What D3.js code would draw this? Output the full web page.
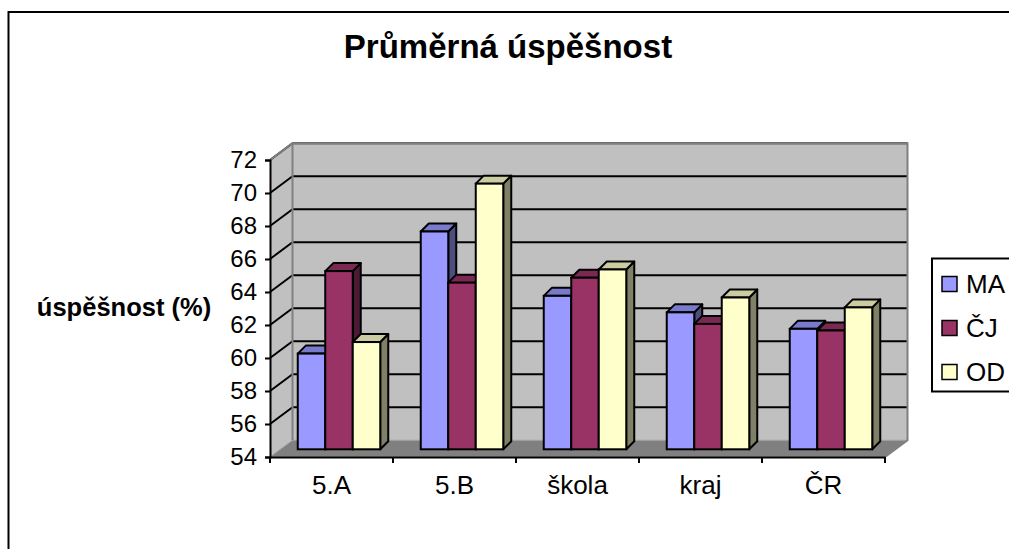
<!DOCTYPE html>
<html>
<head>
<meta charset="utf-8">
<script src="https://cdn.jsdelivr.net/npm/d3@7"></script>
<style>
  body { margin: 0; background: #fff; }
  svg { display: block; font-family: Arial, "Liberation Sans", sans-serif; }
</style>
</head>
<body>
<div id="chart"></div>
<script>
// values
const categories = ["5.A", "5.B", "škola", "kraj", "ČR"];
const seriesNames = ["MA", "ČJ", "OD"];
const maValues = [59.8, 67.2, 63.3, 62.3, 61.3];
const cjValues = [64.8, 64.1, 64.4, 61.6, 61.2];
const odValues = [60.5, 70.1, 64.9, 63.2, 62.6];
const yTicks = [54, 56, 58, 60, 62, 64, 66, 68, 70, 72];

const seriesValues = [maValues, cjValues, odValues];
const colors = [
    {front: "#9999ff", top: "#7a7acc", side: "#4d4d80"},
    {front: "#993366", top: "#7a2952", side: "#4d1a33"},
    {front: "#ffffcc", top: "#cccca3", side: "#808066"}
];

let width = 1009, height = 549;
let plot = {left: 270, right: 885, top: 160, bottom: 457};
let wallDx = 22.5, wallDy = -16.7;   // depth of the 3d box
let barShiftX = 7.5, barShiftY = -7.7; // bars front face sits a bit back
let barDx = 8, barDy = -8;            // depth of a bar

let svg = d3.select("#chart")
    .append("svg")
    .attr("width", width)
    .attr("height", height);

// outer chart border
svg.append("rect")
    .attr("x", 8.5).attr("y", 12)
    .attr("width", 1020).attr("height", 560)
    .attr("fill", "none")
    .attr("stroke", "#000")
    .attr("stroke-width", 2);

let x = d3.scaleBand()
    .domain(categories)
    .range([plot.left, plot.right]);
let y = d3.scaleLinear()
    .domain([54, 72])
    .range([plot.bottom, plot.top]);

let barW = 27.5;
let xs = d3.scaleBand()
    .domain(seriesNames)
    .range([0, barW * seriesNames.length]);

let poly = pts => pts.map(p => p.join(",")).join(" ");

// walls
let y0 = y(54), y1 = y(72);
svg.append("polygon") // side wall
    .attr("points", poly([[plot.left, y1], [plot.left + wallDx, y1 + wallDy],
        [plot.left + wallDx, y0 + wallDy], [plot.left, y0]]))
    .attr("fill", "#c0c0c0");
svg.append("polygon") // back wall
    .attr("points", poly([[plot.left + wallDx, y1 + wallDy], [plot.right + wallDx, y1 + wallDy],
        [plot.right + wallDx, y0 + wallDy], [plot.left + wallDx, y0 + wallDy]]))
    .attr("fill", "#c0c0c0");
svg.append("polygon") // floor
    .attr("points", poly([[plot.left, y0], [plot.left + wallDx, y0 + wallDy],
        [plot.right + wallDx, y0 + wallDy], [plot.right, y0]]))
    .attr("fill", "#808080")
    .attr("stroke", "#a0a0a0")
    .attr("stroke-width", 1);

// gridlines
let grid = yTicks.filter(t => t > 54);
svg.selectAll(".gridBack")
    .data(grid)
    .enter()
    .append("line")
    .attr("x1", plot.left + wallDx)
    .attr("x2", plot.right + wallDx)
    .attr("y1", d => y(d) + wallDy)
    .attr("y2", d => y(d) + wallDy)
    .attr("stroke", "#000")
    .attr("stroke-width", 2);
svg.selectAll(".gridSide")
    .data(grid)
    .enter()
    .append("line")
    .attr("x1", plot.left)
    .attr("x2", plot.left + wallDx)
    .attr("y1", d => y(d))
    .attr("y2", d => y(d) + wallDy)
    .attr("stroke", "#000")
    .attr("stroke-width", 2);

// wall edges
svg.append("polyline")
    .attr("points", poly([[plot.left, y1], [plot.left + wallDx, y1 + wallDy],
        [plot.right + wallDx, y1 + wallDy], [plot.right + wallDx, y0 + wallDy], [plot.right, y0]]))
    .attr("fill", "none")
    .attr("stroke", "#808080")
    .attr("stroke-width", 2);
svg.append("line")
    .attr("x1", plot.left + wallDx).attr("x2", plot.left + wallDx)
    .attr("y1", y1 + wallDy).attr("y2", y0 + wallDy)
    .attr("stroke", "#808080")
    .attr("stroke-width", 2);

// bars
let barData = [];
categories.forEach((c, i) => {
    seriesNames.forEach((s, j) => {
        barData.push({cat: c, series: s, idx: j, value: seriesValues[j][i]});
    });
});

let groupOffset = (x.bandwidth() - xs.range()[1]) / 2;

let bars = svg.selectAll(".bar")
    .data(barData)
    .enter()
    .append("g")
    .attr("class", "bar");

let bx = d => x(d.cat) + groupOffset + xs(d.series) + barShiftX;
let byTop = d => y(d.value) + barShiftY;
let byBot = d => y(54) + barShiftY;

bars.append("polygon") // side
    .attr("points", d => poly([[bx(d) + barW, byTop(d)], [bx(d) + barW + barDx, byTop(d) + barDy],
        [bx(d) + barW + barDx, byBot(d) + barDy], [bx(d) + barW, byBot(d)]]))
    .attr("fill", d => colors[d.idx].side)
    .attr("stroke", "#000")
    .attr("stroke-width", 2)
    .attr("stroke-linejoin", "round");
bars.append("polygon") // top
    .attr("points", d => poly([[bx(d), byTop(d)], [bx(d) + barDx, byTop(d) + barDy],
        [bx(d) + barW + barDx, byTop(d) + barDy], [bx(d) + barW, byTop(d)]]))
    .attr("fill", d => colors[d.idx].top)
    .attr("stroke", "#000")
    .attr("stroke-width", 2)
    .attr("stroke-linejoin", "round");
bars.append("rect") // front
    .attr("x", bx)
    .attr("y", byTop)
    .attr("width", barW)
    .attr("height", d => byBot(d) - byTop(d))
    .attr("fill", d => colors[d.idx].front)
    .attr("stroke", "#000")
    .attr("stroke-width", 2);

// y axis
let yAxis = d3.axisLeft(y)
    .tickValues(yTicks)
    .tickSize(5)
    .tickPadding(8);
let gy = svg.append("g")
    .attr("transform", "translate(" + plot.left + ",0)")
    .call(yAxis);
gy.select(".domain").attr("stroke", "#000").attr("stroke-width", 2);
gy.selectAll(".tick line").attr("stroke", "#000").attr("stroke-width", 2);
gy.selectAll(".tick text")
    .attr("fill", "#000")
    .style("font-size", "24px")
    .style("font-family", "Arial, 'Liberation Sans', sans-serif");

// x axis
let xAxis = d3.axisBottom(x)
    .tickSize(0)
    .tickPadding(19);
let gx = svg.append("g")
    .attr("transform", "translate(0," + plot.bottom + ")")
    .call(xAxis);
gx.select(".domain").attr("stroke", "#000").attr("stroke-width", 2);
gx.selectAll(".tick text")
    .attr("fill", "#000")
    .style("font-size", "26px")
    .style("font-family", "Arial, 'Liberation Sans', sans-serif");

let edges = categories.map(c => x(c)).concat([plot.right]);
svg.selectAll(".xtick")
    .data(edges)
    .enter()
    .append("line")
    .attr("x1", d => d).attr("x2", d => d)
    .attr("y1", plot.bottom).attr("y2", plot.bottom + 6)
    .attr("stroke", "#000")
    .attr("stroke-width", 2);

// titles
svg.append("text")
    .attr("x", 508)
    .attr("y", 58)
    .attr("text-anchor", "middle")
    .style("font-size", "33px")
    .style("font-weight", "bold")
    .text("Průměrná úspěšnost");

svg.append("text")
    .attr("x", 124)
    .attr("y", 316)
    .attr("text-anchor", "middle")
    .style("font-size", "25.5px")
    .style("font-weight", "bold")
    .text("úspěšnost (%)");

// legend
let legend = svg.append("g");
legend.append("rect")
    .attr("x", 932).attr("y", 258.5)
    .attr("width", 100).attr("height", 133)
    .attr("fill", "#fff")
    .attr("stroke", "#000")
    .attr("stroke-width", 2);

let legendY = d3.scalePoint()
    .domain(seriesNames)
    .range([284, 372]);

let items = legend.selectAll(".item")
    .data(seriesNames)
    .enter()
    .append("g");
items.append("rect")
    .attr("x", 942)
    .attr("y", d => legendY(d) - 7.5)
    .attr("width", 15)
    .attr("height", 15)
    .attr("fill", (d, i) => colors[i].front)
    .attr("stroke", "#000")
    .attr("stroke-width", 1.5);
items.append("text")
    .attr("x", 966)
    .attr("y", d => legendY(d) + 9)
    .style("font-size", "26px")
    .text(d => d);
</script>
</body>
</html>
